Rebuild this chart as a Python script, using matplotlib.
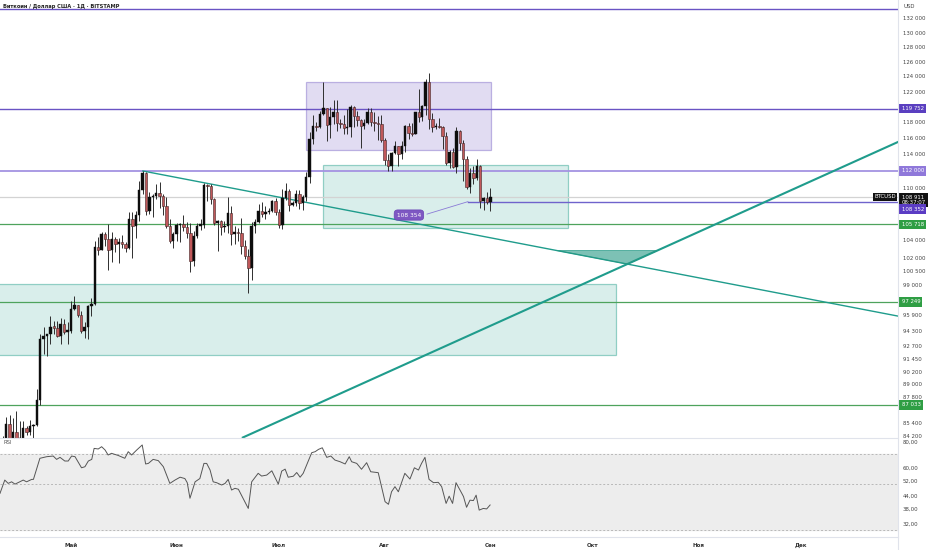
import matplotlib
matplotlib.use("Agg")
import matplotlib.pyplot as plt
import numpy as np
import pandas as pd
from matplotlib.patches import Rectangle, Polygon
from matplotlib.lines import Line2D
from matplotlib.ticker import NullLocator

# ---------------- data ----------------
title = "Биткоин / Доллар США · 1Д · BITSTAMP"
start_date = "2025-04-10"
end_date = "2025-09-01"
first_open = 82.6
closes = [79.6,83.4,85.3,83.7,84.5,83.6,84.0,84.9,84.5,85.1,85.2,87.5,93.4,93.7,93.9,94.7,94.6,93.7,95.0,94.2,94.25,
          96.5,96.9,95.9,94.3,94.7,96.8,97.0,103.2,102.9,104.6,104.1,102.8,104.1,103.5,103.7,103.5,103.1,106.4,105.6,106.8,
          109.7,111.7,107.3,108.9,109.0,109.4,109.0,107.8,105.6,103.9,104.6,
          105.7,105.8,105.4,104.7,101.6,104.4,105.6,105.7,110.3,110.2,108.7,105.9,106.1,105.4,105.6,107.0,104.6,104.9,104.7,103.3,
          102.2,100.9,105.6,106.0,107.3,106.9,107.1,107.3,108.4,107.1,
          105.7,108.8,109.6,108.0,108.2,109.2,108.2,108.9,111.3,115.9,117.5,117.4,119.1,119.8,117.7,118.7,119.3,117.9,117.85,117.3,
          117.4,120.0,118.8,118.3,117.6,117.9,119.4,118.0,117.9,117.8,115.8,
          113.3,112.6,114.2,115.0,114.1,115.0,117.5,116.7,116.5,119.3,118.7,120.1,123.3,118.4,117.4,117.5,117.4,116.3,112.9,114.3,
          112.5,116.9,115.4,113.5,110.1,111.8,111.2,112.6,108.4,108.8,108.3,
          108.9]
highs = [82.7,84.2,85.9,86.1,85.8,86.5,85.5,85.5,85.1,85.6,85.3,88.5,93.9,94.7,94.0,95.8,95.3,95.3,95.6,95.5,95.2,
         97.4,97.9,96.9,96.3,95.2,96.9,97.7,103.9,104.3,104.9,104.9,105.8,104.9,104.3,104.2,104.5,103.7,107.1,107.1,107.3,
         110.8,112.0,111.9,109.5,109.3,110.4,110.7,109.3,108.9,106.3,104.9,
         105.9,105.9,106.8,106.0,105.9,105.0,105.9,106.4,110.6,110.4,110.4,108.8,106.2,106.2,106.1,108.9,107.8,105.6,105.3,106.5,
         104.0,103.0,106.0,106.3,108.1,108.3,107.8,107.6,108.5,108.8,
         107.5,109.8,110.5,109.8,108.4,109.7,109.7,109.1,111.9,116.8,118.9,118.0,119.5,123.2,119.9,120.0,120.9,120.9,118.4,118.9,
         119.7,120.2,120.1,119.5,118.4,118.4,119.8,119.8,119.3,118.8,118.9,
         116.1,114.0,114.3,115.7,115.1,115.7,117.7,117.9,117.9,119.3,122.3,120.3,123.7,124.5,119.2,117.9,118.6,117.6,116.8,114.6,
         114.8,117.4,117.0,115.8,113.8,112.4,112.6,113.5,112.7,108.9,109.5,
         109.9]
lows = [78.4,78.9,82.0,82.9,83.7,83.6,83.1,83.9,84.3,84.3,83.9,85.1,87.0,91.9,91.7,92.9,93.9,93.6,92.9,93.9,92.9,
        94.1,96.4,95.7,94.1,93.5,93.4,95.8,96.9,102.3,102.8,103.3,100.7,101.5,102.6,101.4,103.1,102.6,103.0,102.0,104.2,
        106.1,109.3,106.8,106.9,106.6,108.7,107.6,106.8,105.3,103.6,103.1,
        103.8,103.7,105.0,104.2,100.4,101.1,104.2,105.1,105.3,108.4,108.1,105.7,102.7,104.5,104.9,104.8,103.4,103.5,103.9,102.4,
        101.9,98.2,99.6,104.7,105.9,106.6,106.4,106.9,107.2,106.8,
        105.3,105.2,108.6,107.3,107.8,107.8,107.5,107.4,108.4,110.6,115.3,116.9,117.3,118.9,115.7,116.0,117.8,116.9,117.3,116.5,
        116.6,116.2,117.4,117.6,114.8,117.2,117.8,117.5,116.9,115.8,115.6,
        112.7,112.0,112.0,114.1,112.6,113.4,114.3,115.9,116.3,116.5,118.1,118.2,118.9,117.2,116.8,117.2,117.3,114.7,112.7,112.4,
        112.4,111.7,114.6,110.8,109.8,109.4,110.4,110.9,107.6,107.4,108.1,
        107.3]

# RSI vertices: days since 1 May 2025, value
rsi_day = [-20.8,-19.4,-18.4,-17.4,-16.4,-15.0,-14.0,-13.0,-11.5,-11.0,
           -9.1,-7.1,-5.2,-4.2,-3.2,-1.8,-0.8,0.2,1.2,3.1,
           4.1,5.1,6.1,6.8,8.0,9.0,10.0,10.9,11.9,13.9,
           15.8,16.8,17.8,19.3,20.9,21.9,22.7,24.1,25.6,27.1,
           29.0,30.5,32.0,33.4,34.1,34.9,36.4,37.8,39.0,39.8,
           40.8,41.7,42.7,44.2,45.2,46.1,47.1,48.1,49.1,52.0,
           53.0,54.9,55.9,57.4,58.9,60.8,61.8,62.8,63.7,65.2,
           66.2,67.2,68.1,70.6,71.6,72.6,73.7,75.0,76.2,77.4,
           78.9,80.4,81.6,82.3,83.8,85.2,86.7,87.9,90.1,92.1,
           93.1,94.0,95.0,96.0,97.9,99.4,100.7,101.9,102.8,103.8,
           105.0,106.3,107.7,108.7,110.0,110.9,111.9,112.9,114.6,115.1,
           116.0,117.0,118.0,118.8,119.7,120.9,121.9,122.9]
rsi_val = [45.1,52.3,50.4,51.3,50.0,51.3,52.3,51.3,52.7,52.7,
           66.7,67.9,68.4,65.9,67.4,64.7,64.7,68.4,67.9,60.0,
           60.7,64.7,65.9,74.5,74.0,75.9,73.2,69.2,70.5,68.8,
           66.7,71.8,69.2,73.2,77.4,62.6,63.0,65.9,65.0,60.7,
           50.4,52.3,54.0,53.2,50.8,42.7,51.3,53.2,63.0,63.0,
           58.5,51.3,50.8,49.5,50.4,52.7,46.8,47.7,47.2,38.1,
           51.3,56.4,54.7,55.3,58.0,50.0,57.8,59.1,54.0,54.6,
           56.9,54.0,56.4,71.0,71.8,73.7,75.0,67.4,68.4,65.4,
           64.2,62.6,67.9,64.2,63.0,59.0,63.5,57.4,56.8,41.1,
           39.9,45.9,48.6,45.9,56.4,52.9,60.0,58.5,63.0,67.4,
           52.7,50.8,51.0,48.6,40.3,43.7,40.3,50.8,45.1,43.5,
           38.6,41.8,41.6,44.2,37.4,38.1,37.9,39.6]

month_days = [0, 31, 61, 92, 123, 153, 184, 214]
month_labels = ["Май", "Июн", "Июл", "Авг", "Сен", "Окт", "Ноя", "Дек"]

price_ticks = [132000,130000,128000,126000,124000,122000,118000,116000,114000,110000,
               104000,102000,100500,99000,95900,94300,92700,91450,90200,89000,87800,85400,84200]
rsi_ticks = [80, 60, 52, 44, 38, 32]

top_level = 133300
purple_levels = [119752, 112000]
level_108 = 108352
green_levels = [105718, 97249, 87033]
last_price = 108911

# zones: (day start, day end, price low, price high)
zone_purple = (68.9, 123.2, 114560, 123300)
zone_green_small = (73.8, 145.7, 105270, 112720)
zone_green_big = (-30.0, 159.8, 91820, 99120)
# trendlines (day, price)
trend_down = [(21.1, 111990), (242.5, 95780)]
trend_up = [(50.4, 84035), (242.5, 115550)]
wedge_top = 102800
note_point = (116.4, 108352)
note_label = (99.1, 106800)
note_text = "108 354"

# ---------------- figure ----------------
W, H = 932, 550
fig = plt.figure(figsize=(W / 100, H / 100), dpi=100)
fig.patch.set_facecolor("white")


def fy(p):
    return 1 - p / H


ax = fig.add_axes([0, fy(437.5), 898 / W, 437.5 / H])
rs = fig.add_axes([0, fy(537), 898 / W, (537 - 438) / H])

XMIN, XMAX = -20.8, 242.5
for a in (ax, rs):
    a.set_facecolor("white")
    for s in a.spines.values():
        s.set_visible(False)
    a.set_xlim(XMIN, XMAX)

ax.set_yscale("log")
ax.set_ylim(84035, 134650)

dates = pd.date_range(start_date, end_date, freq="D")
xd = np.array((dates - pd.Timestamp("2025-05-01")).days, dtype=float)
c = np.array(closes) * 1000
o = np.concatenate([[first_open * 1000], c[:-1]])
h = np.maximum(np.array(highs) * 1000, np.maximum(o, c))
l = np.minimum(np.array(lows) * 1000, np.minimum(o, c))
n = min(len(xd), len(c))
xd, o, h, l, c = xd[:n], o[:n], h[:n], l[:n], c[:n]

# zones
def zone(z, fc, ec):
    ax.add_patch(Rectangle((z[0], z[2]), z[1] - z[0], z[3] - z[2], facecolor=fc,
                           edgecolor=ec, lw=0.9, zorder=1))

zone(zone_green_big, (0.13, 0.62, 0.54, 0.17), (0.13, 0.62, 0.54, 0.45))
zone(zone_green_small, (0.13, 0.62, 0.54, 0.17), (0.13, 0.62, 0.54, 0.45))
zone(zone_purple, (0.42, 0.32, 0.75, 0.20), (0.42, 0.32, 0.75, 0.40))

# horizontal levels
ax.axhline(top_level, color="#6a53c4", lw=1.0, zorder=2)
ax.axhline(purple_levels[0], color="#6a53c4", lw=1.0, zorder=2)
ax.axhline(purple_levels[1], color="#a493e2", lw=1.3, zorder=2)
for g in green_levels:
    ax.axhline(g, color="#4ea35c", lw=0.9, zorder=2)
ax.axhline(last_price, color="#d3d3d3", lw=0.9, zorder=2)
ax.plot([note_point[0], XMAX], [level_108, level_108], color="#6f63cc", lw=1.0, zorder=2)


# trendlines
def logline(p0, p1):
    d0, q0 = p0[0], np.log(p0[1])
    d1, q1 = p1[0], np.log(p1[1])
    m = (q1 - q0) / (d1 - d0)
    return m, q0 - m * d0

md, bd = logline(*trend_down)
mu, bu = logline(*trend_up)
ax.plot([trend_down[0][0], trend_down[1][0]], [trend_down[0][1], trend_down[1][1]],
        color="#1f9c8c", lw=1.0, zorder=3)
ax.plot([trend_up[0][0], trend_up[1][0]], [trend_up[0][1], trend_up[1][1]],
        color="#1f9c8c", lw=1.5, zorder=3)
qt = np.log(wedge_top)
xa = (qt - bd) / md
xb = (qt - bu) / mu
xi = (bu - bd) / (md - mu)
pi = np.exp(md * xi + bd)
ax.add_patch(Polygon([(xa, wedge_top), (xb, wedge_top), (xi, pi)], closed=True,
                     facecolor=(0.15, 0.6, 0.52, 0.6), edgecolor=(0.15, 0.6, 0.52, 0.8),
                     lw=0.6, zorder=3))

# candles
up = c >= o
bot = np.minimum(o, c)
top = np.maximum(o, c)
top = np.maximum(top, bot * 1.0012)
ax.vlines(xd, l, h, color="#2e2e2e", lw=0.7, zorder=4)
ax.bar(xd[up], (top - bot)[up], bottom=bot[up], width=0.72, color="#0d0d0d",
       edgecolor="#0d0d0d", lw=0.3, zorder=5)
ax.bar(xd[~up], (top - bot)[~up], bottom=bot[~up], width=0.72, color="#c0585a",
       edgecolor="#3f2424", lw=0.4, zorder=5)

# note label
ax.plot([note_label[0] + 5.3, note_point[0]], [note_label[1] * 1.001, note_point[1]],
        color="#8a7ad6", lw=0.6, zorder=6)
ax.text(note_label[0], note_label[1], note_text, fontsize=4.2, color="white", ha="center",
        va="center", zorder=7,
        bbox=dict(boxstyle="round,pad=0.45,rounding_size=0.6", fc="#7e57c2", ec="#6a45b5", lw=0.5))

# price axis
ax.yaxis.set_ticks_position("right")
ax.yaxis.set_minor_locator(NullLocator())
ax.set_yticks(price_ticks)
ax.set_yticklabels([f"{t:,}".replace(",", " ") for t in price_ticks])
ax.tick_params(axis="y", which="both", length=0, pad=3.3, labelsize=3.9, labelcolor="#444444")
ax.set_xticks([])


def tag(value, text, fc, dy_px=0.0, tc="white", ls=1.0):
    ax.annotate(text, xy=(1, value), xycoords=("axes fraction", "data"),
                xytext=(2.6, -dy_px * 0.72), textcoords="offset points", ha="left",
                va="center", fontsize=3.9, color=tc, linespacing=ls, annotation_clip=False,
                bbox=dict(boxstyle="square,pad=0.4", fc=fc, ec="none"), zorder=10)

tag(purple_levels[0], "119 752", "#5a3fc0")
tag(purple_levels[1], "112 000", "#8f78da")
tag(last_price, "108 911\n08:37:07", "#111111", dy_px=3.0, ls=1.05)
tag(level_108, "108 352", "#5b3cc4", dy_px=7.4)
for g in green_levels:
    tag(g, f"{g:,}".replace(",", " "), "#2f9e44")
ax.annotate("BTCUSD", xy=(1, last_price), xycoords=("axes fraction", "data"),
            xytext=(-1.6, 0), textcoords="offset points", ha="right", va="center",
            fontsize=3.9, color="white", annotation_clip=False,
            bbox=dict(boxstyle="square,pad=0.3", fc="#111111", ec="none"), zorder=10)

# RSI pane
rs.set_yscale("log")
rs.set_ylim(27.7, 83.66)
rs.axhspan(30, 70, color="#ededed", zorder=0)
for lv in (70, 50, 30):
    rs.axhline(lv, color="#b8b8b8", lw=0.7, dashes=(2, 2), zorder=1)
rs.plot(rsi_day[:len(rsi_val)], rsi_val[:len(rsi_day)], color="#555555", lw=0.7, zorder=3)
rs.yaxis.set_ticks_position("right")
rs.yaxis.set_minor_locator(NullLocator())
rs.set_yticks(rsi_ticks)
rs.set_yticklabels([f"{t},00" for t in rsi_ticks])
rs.tick_params(axis="y", which="both", length=0, pad=3.3, labelsize=3.9, labelcolor="#444444")
rs.set_xticks(month_days)
rs.set_xticklabels(month_labels)
rs.tick_params(axis="x", length=0, pad=4.0, labelsize=4.0, labelcolor="#333333")
for t in rs.get_xticklabels():
    t.set_fontweight("bold")

# texts
fig.text(3 / W, fy(6), title, va="center", ha="left", fontsize=3.7, fontweight="bold", color="#222222")
fig.text(904 / W, fy(6), "USD", va="center", ha="left", fontsize=3.9, color="#444444")
fig.text(4 / W, fy(443), "RSI", va="center", ha="left", fontsize=3.8, color="#555555")

# separators
fig.add_artist(Line2D([898 / W, 898 / W], [0, 1], color="#e0e3eb", lw=0.8))
fig.add_artist(Line2D([0, 898 / W], [fy(437.5), fy(437.5)], color="#e0e3eb", lw=0.8))
fig.add_artist(Line2D([0, 898 / W], [fy(537), fy(537)], color="#e0e3eb", lw=0.8))

fig.savefig("out.png", dpi=100, facecolor="white")
